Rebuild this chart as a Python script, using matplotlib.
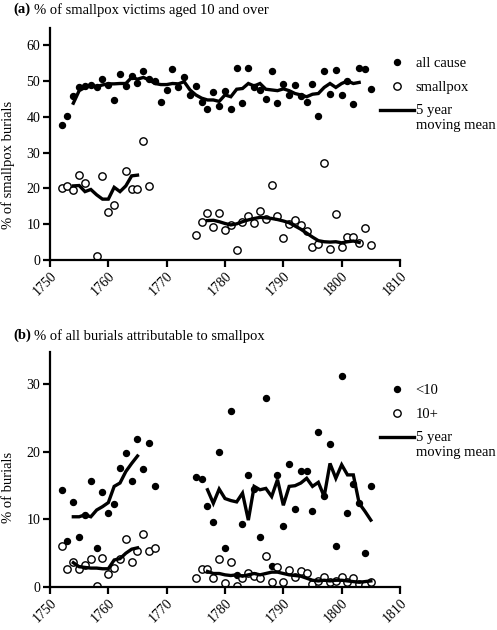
import numpy as np
import matplotlib.pyplot as plt
from matplotlib.lines import Line2D
from matplotlib.legend_handler import HandlerLine2D

plt.rcParams['font.family'] = ['Liberation Serif', 'DejaVu Serif']

# (a) % of smallpox victims aged 10 and over
all_cause_years = list(range(1752, 1806))
all_cause = [37.7, 40.2, 45.8, 48.2, 48.5, 48.9, 48.2, 50.5, 48.9, 44.7,
             52.0, 48.6, 51.5, 49.3, 52.9, 50.6, 50.1, 44.0, 47.6, 53.3,
             48.4, 51.2, 46.1, 48.7, 44.0, 42.2, 46.8, 43.0, 47.3, 42.3,
             53.7, 43.9, 53.7, 48.4, 47.5, 44.9, 52.9, 43.9, 49.1, 46.0,
             48.9, 45.8, 44.0, 49.1, 40.2, 52.9, 46.5, 53.0, 46.1, 50.0,
             43.7, 53.5, 53.3, 47.9]
all_cause_mean_years = list(range(1754, 1804))
all_cause_mean = [43.8, 47.3, 48.2, 48.9, 48.4, 48.9, 49.2, 49.2, 49.3, 49.3,
                  51.0, 50.5, 51.0, 50.3, 49.3, 49.0, 49.0, 49.3, 49.2, 49.8,
                  47.5, 46.1, 45.2, 44.7, 44.7, 44.3, 46.1, 45.6, 47.7, 47.9,
                  49.3, 48.6, 49.3, 47.7, 47.5, 47.3, 47.8, 47.3, 46.5, 46.1,
                  45.6, 46.3, 46.5, 48.2, 49.3, 48.2, 49.3, 50.0, 49.3, 49.6]

pox_years = [1752, 1753, 1754, 1755, 1756, 1758, 1759, 1760, 1761, 1763,
             1764, 1765, 1766, 1767,
             1775, 1776, 1777, 1778, 1779, 1780, 1781, 1782, 1783, 1784,
             1785, 1786, 1787, 1788, 1789, 1790, 1791, 1792, 1793, 1794,
             1795, 1796, 1797, 1798, 1799, 1800, 1801, 1802, 1803, 1804, 1805]
pox = [20.2, 20.7, 19.5, 23.7, 21.4, 1.1, 23.5, 13.5, 15.3, 24.9,
       19.7, 19.7, 33.2, 20.7,
       7.1, 10.7, 13.1, 9.3, 13.1, 8.4, 9.7, 2.7, 10.7, 12.3,
       10.2, 13.8, 11.5, 20.9, 12.2, 6.1, 10.0, 11.2, 9.9, 8.2,
       3.7, 4.5, 27.2, 3.1, 12.8, 3.7, 6.5, 6.3, 4.8, 9.0, 4.2]
pox_mean_early_years = list(range(1754, 1766))
pox_mean_early = [20.7, 20.8, 19.1, 19.7, 18.2, 17.0, 17.0, 20.3, 19.1, 20.7,
                  23.5, 23.7]
pox_mean_late_years = list(range(1777, 1804))
pox_mean_late = [11.0, 11.1, 10.7, 10.2, 9.8, 10.1, 10.7, 11.2, 11.6, 11.9,
                 11.8, 11.6, 11.3, 10.9, 10.4, 9.5, 8.6, 7.5, 6.4, 5.4,
                 5.1, 5.0, 5.1, 4.8, 5.1, 5.3, 4.9]

# (b) % of all burials attributable to smallpox
b_years = list(range(1752, 1769)) + list(range(1775, 1806))
under10 = [14.4, 6.8, 12.6, 7.4, 10.6, 15.7, 5.8, 14.1, 10.9, 12.3,
           17.6, 19.8, 15.7, 21.9, 17.5, 21.3, 15.0,
           16.3, 16.0, 12.0, 9.6, 20.0, 5.8, 26.0, 1.8, 9.4, 16.6,
           14.5, 7.4, 28.0, 3.1, 16.6, 9.0, 18.2, 11.5, 17.2, 17.2,
           11.3, 22.9, 13.5, 21.2, 6.1, 31.3, 11.0, 15.2, 12.4, 5.0, 15.0]
over10 = [6.0, 2.6, 3.7, 2.6, 3.3, 4.1, 0.1, 4.3, 1.9, 2.8,
          4.1, 7.1, 3.7, 5.4, 7.8, 5.4, 5.8,
          1.4, 2.6, 2.7, 1.3, 4.1, 0.6, 3.7, 0.1, 1.4, 2.1,
          1.6, 1.4, 4.6, 0.8, 3.0, 0.8, 2.5, 1.5, 2.4, 2.1,
          0.4, 0.9, 1.5, 0.8, 0.9, 1.5, 0.8, 1.4, 0.4, 0.3, 0.8]
b_mean_early_years = list(range(1754, 1766))
under10_mean_early = [10.4, 10.4, 10.7, 10.4, 11.4, 11.9, 12.5, 14.9, 15.4,
                      17.1, 18.3, 19.4]
over10_mean_early = [3.6, 3.0, 2.9, 2.8, 2.8, 2.7, 2.7, 4.0, 4.2, 5.0, 5.6, 5.8]
b_mean_late_years = list(range(1777, 1806))
under10_mean_late = [14.4, 12.4, 14.5, 13.1, 12.8, 12.6, 13.9, 9.9, 14.9, 14.4,
                     14.6, 13.4, 15.9, 12.1, 14.9, 15.0, 15.4, 16.1, 14.9, 15.5,
                     13.4, 18.3, 16.1, 18.1, 16.6, 16.6, 12.4, 11.2, 9.9]
over10_mean_late = [2.3, 2.0, 2.0, 1.8, 1.7, 1.8, 1.6, 1.8, 2.0, 1.8,
                    2.0, 2.2, 2.2, 2.0, 1.8, 1.7, 1.6, 1.3, 1.0, 0.9,
                    1.0, 0.9, 1.0, 1.0, 0.9, 0.8, 0.7, 0.8, 0.9]

fig = plt.figure(figsize=(4.97, 6.30), dpi=100)
ax_a = fig.add_axes([50/497, 1 - 260/630, 350/497, 232/630])
ax_b = fig.add_axes([50/497, 1 - 587/630, 350/497, 235/630])

filled = dict(ls='none', marker='o', ms=4.3, color='black')
hollow = dict(ls='none', marker='o', ms=5.3, mfc='white', mec='black', mew=1.0)
mean_line = dict(color='black', lw=2.4, solid_joinstyle='miter', zorder=3)


def style(ax, ymax, yticks):
    ax.set_xlim(1750, 1810)
    ax.set_ylim(0, ymax)
    ax.set_xticks(range(1750, 1811, 10))
    ax.set_yticks(yticks)
    for s in ['top', 'right']:
        ax.spines[s].set_visible(False)
    for s in ['left', 'bottom']:
        ax.spines[s].set_linewidth(1.6)
    ax.tick_params(direction='out', length=5, width=1.6, labelsize=10, pad=2)
    for lbl in ax.get_xticklabels():
        lbl.set_rotation(45)
        lbl.set_ha('right')
        lbl.set_va('top')
        lbl.set_rotation_mode('anchor')


# panel (a)
ax_a.plot(all_cause_years, all_cause, **filled)
ax_a.plot(pox_years, pox, **hollow)
ax_a.plot(all_cause_mean_years, all_cause_mean, **mean_line)
ax_a.plot(pox_mean_early_years, pox_mean_early, **mean_line)
ax_a.plot(pox_mean_late_years, pox_mean_late, **mean_line)
style(ax_a, 64.8, range(0, 61, 10))
ax_a.set_ylabel('% of smallpox burials', fontsize=10.5)
ax_a.yaxis.set_label_coords(-0.1, 0.41)

# panel (b)
ax_b.plot(b_years, under10, **filled)
ax_b.plot(b_years, over10, **hollow)
ax_b.plot(b_mean_early_years, under10_mean_early, **mean_line)
ax_b.plot(b_mean_early_years, over10_mean_early, **mean_line)
ax_b.plot(b_mean_late_years, under10_mean_late, **mean_line)
ax_b.plot(b_mean_late_years, over10_mean_late, **mean_line)
style(ax_b, 34.8, range(0, 31, 10))
ax_b.set_ylabel('% of burials', fontsize=10.5)
ax_b.yaxis.set_label_coords(-0.1, 0.425)

# titles
fig.text(13/497, 1 - 3/630, '(a)', weight='bold', fontsize=10.5, va='top')
fig.text(34/497, 1 - 3/630, '% of smallpox victims aged 10 and over', fontsize=10.5, va='top')
fig.text(13/497, 1 - 329/630, '(b)', weight='bold', fontsize=10.5, va='top')
fig.text(34/497, 1 - 329/630, '% of all burials attributable to smallpox', fontsize=10.5, va='top')


class FirstLineHandler(HandlerLine2D):
    # put the legend line level with the first line of a two-line label
    def create_artists(self, legend, orig_handle, xdescent, ydescent,
                       width, height, fontsize, trans):
        artists = super().create_artists(legend, orig_handle, xdescent, ydescent,
                                         width, height, fontsize, trans)
        for a in artists:
            a.set_ydata(np.asarray(a.get_ydata()) + 5.8)
        return artists


def legend(ax, labels, top):
    mean_handle = Line2D([], [], color='black', lw=2.4)
    handles = [Line2D([], [], **filled), Line2D([], [], **hollow), mean_handle]
    ax.legend(handles, labels, loc='upper left', frameon=False,
              bbox_to_anchor=(380/497, 1 - top/630), bbox_transform=fig.transFigure,
              borderaxespad=0, borderpad=0, handlelength=2.3, handletextpad=0.15,
              labelspacing=0.7, fontsize=10.5,
              handler_map={mean_handle: FirstLineHandler()})


legend(ax_a, ['all cause', 'smallpox', '5 year\nmoving mean'], 57)
legend(ax_b, ['<10', '10+', '5 year\nmoving mean'], 384)

fig.savefig('out.png', dpi=100)
